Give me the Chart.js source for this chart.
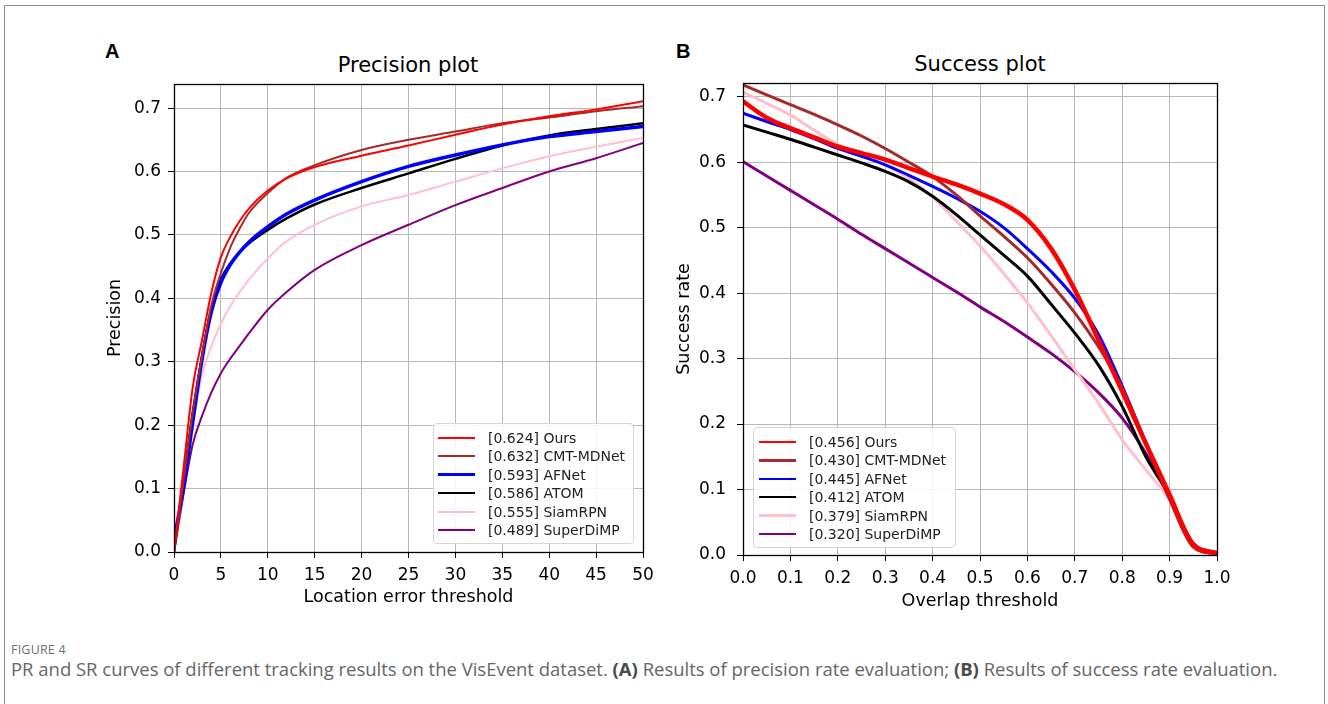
<!DOCTYPE html>
<html>
<head>
<meta charset="utf-8">
<script src="https://cdn.jsdelivr.net/npm/chart.js@4.4.1/dist/chart.umd.min.js"></script>
<style>
  html, body { margin:0; padding:0; background:#fff; }
  body { width:1328px; height:704px; position:relative; overflow:hidden; font-family:"DejaVu Sans", sans-serif; }
  #frame { position:absolute; left:4px; top:5px; width:1321px; height:760px; border:1.5px solid #8c8c8c; box-sizing:border-box; }
  .panel { position:absolute; font-family:"Liberation Sans", Arial, sans-serif; font-weight:bold; font-size:20px; line-height:20px; color:#000; }
  .ptitle { position:absolute; font-family:"DejaVu Sans", sans-serif; font-size:21px; line-height:24px; text-align:center; color:#000; white-space:nowrap; }
  .cv { position:absolute; top:0; }
  .legend { position:absolute; background:rgba(255,255,255,0.85); border:1px solid #d6d6d6; border-radius:4px; box-sizing:border-box; }
  .lrow { position:absolute; left:0; height:18px; width:100%; }
  .lline { position:absolute; }
  .ltext { position:absolute; top:0; font-family:"DejaVu Sans", sans-serif; font-size:14px; line-height:18px; color:#222; white-space:nowrap; }
  #figlabel { position:absolute; left:11px; top:641px; font-family:"Open Sans", "Noto Sans", sans-serif; font-size:12.5px; color:#707070; letter-spacing:0.2px; }
  #caption { position:absolute; left:11px; top:658px; font-family:"Open Sans", "Noto Sans", sans-serif; font-size:16px; line-height:22px; color:#666; white-space:nowrap; }
  #caption b { color:#4a4a4a; }
</style>
</head>
<body>
<div id="frame"></div>
<div class="panel" style="left:105px;top:41px;">A</div>
<div class="panel" style="left:676px;top:41px;">B</div>
<div class="ptitle" style="left:258px;width:300px;top:53px;">Precision plot</div>
<div class="ptitle" style="left:830px;width:300px;top:52px;">Success plot</div>
<canvas id="c1" class="cv" width="664" height="630" style="left:0px;width:664px;height:630px;"></canvas>
<canvas id="c2" class="cv" width="664" height="630" style="left:664px;width:664px;height:630px;"></canvas>
<div id="leg1" class="legend" style="left:433px;top:423px;width:201px;height:121px;"></div>
<div id="leg2" class="legend" style="left:753px;top:427px;width:203px;height:121px;"></div>
<div id="figlabel">FIGURE 4</div>
<div id="caption">PR and SR curves of different tracking results on the VisEvent dataset. <b>(A)</b> Results of precision rate evaluation; <b>(B)</b> Results of success rate evaluation.</div>

<script>
// ---------------- DATA ----------------
const methods = ["Ours", "CMT-MDNet", "AFNet", "ATOM", "SiamRPN", "SuperDiMP"];
const precScores = ["0.624", "0.632", "0.593", "0.586", "0.555", "0.489"];
const succScores = ["0.456", "0.430", "0.445", "0.412", "0.379", "0.320"];
const seriesColors = ["#ff0000", "#a52a2a", "#0000ff", "#000000", "#ffc0cb", "#800080"];

// Precision plot (location error threshold, pixels)
const precThresholds = [0, 1, 2, 3, 4, 5, 6, 7, 8, 10, 12, 15, 20, 25, 30, 35, 40, 45, 50];
const precOurs      = [0, 0.13, 0.26, 0.335, 0.41, 0.465, 0.497, 0.522, 0.542, 0.57, 0.589, 0.607, 0.625, 0.641, 0.658, 0.674, 0.687, 0.698, 0.711];
const precCMTMDNet  = [0, 0.11, 0.22, 0.31, 0.39, 0.44, 0.48, 0.51, 0.535, 0.566, 0.59, 0.61, 0.634, 0.65, 0.663, 0.676, 0.685, 0.695, 0.703];
const precAFNet     = [0.02, 0.10, 0.205, 0.305, 0.38, 0.425, 0.453, 0.473, 0.489, 0.513, 0.533, 0.555, 0.584, 0.608, 0.626, 0.642, 0.655, 0.663, 0.671];
const precATOM      = [0, 0.11, 0.22, 0.31, 0.385, 0.43, 0.455, 0.473, 0.487, 0.508, 0.526, 0.548, 0.574, 0.597, 0.62, 0.641, 0.657, 0.667, 0.676];
const precSiamRPN   = [0, 0.10, 0.20, 0.28, 0.325, 0.36, 0.388, 0.41, 0.43, 0.463, 0.49, 0.516, 0.545, 0.563, 0.584, 0.605, 0.624, 0.639, 0.653];
const precSuperDiMP = [0, 0.09, 0.17, 0.215, 0.252, 0.282, 0.305, 0.325, 0.345, 0.382, 0.41, 0.445, 0.484, 0.516, 0.547, 0.574, 0.60, 0.621, 0.645];

// Success plot (overlap threshold)
const overlapThresholds = [0, 0.05, 0.1, 0.15, 0.2, 0.25, 0.3, 0.35, 0.4, 0.45, 0.5, 0.55, 0.6, 0.65, 0.7, 0.75, 0.8, 0.85, 0.9, 0.95, 1.0];
const succOurs      = [0.693, 0.668, 0.652, 0.638, 0.624, 0.614, 0.604, 0.591, 0.578, 0.566, 0.552, 0.536, 0.512, 0.468, 0.405, 0.328, 0.25, 0.17, 0.092, 0.016, 0.003];
const succCMTMDNet  = [0.718, 0.703, 0.688, 0.673, 0.657, 0.64, 0.621, 0.60, 0.578, 0.55, 0.518, 0.487, 0.454, 0.414, 0.37, 0.318, 0.255, 0.17, 0.085, 0.012, 0.001];
const succAFNet     = [0.675, 0.662, 0.65, 0.636, 0.621, 0.609, 0.596, 0.58, 0.563, 0.545, 0.525, 0.50, 0.468, 0.433, 0.392, 0.337, 0.258, 0.172, 0.09, 0.015, 0.002];
const succATOM      = [0.657, 0.646, 0.635, 0.623, 0.611, 0.599, 0.586, 0.57, 0.548, 0.52, 0.489, 0.458, 0.426, 0.383, 0.339, 0.29, 0.227, 0.15, 0.09, 0.015, 0.002];
const succSiamRPN   = [0.707, 0.69, 0.672, 0.649, 0.627, 0.611, 0.596, 0.575, 0.547, 0.51, 0.472, 0.43, 0.385, 0.335, 0.283, 0.232, 0.176, 0.13, 0.084, 0.015, 0.002];
const succSuperDiMP = [0.601, 0.579, 0.557, 0.535, 0.513, 0.49, 0.468, 0.446, 0.424, 0.402, 0.379, 0.357, 0.333, 0.308, 0.28, 0.248, 0.209, 0.155, 0.089, 0.018, 0.003];

const precTickLabels = ["0", "5", "10", "15", "20", "25", "30", "35", "40", "45", "50"];
const rateTickLabels = ["0.0", "0.1", "0.2", "0.3", "0.4", "0.5", "0.6", "0.7"];
const overlapTickLabels = ["0.0", "0.1", "0.2", "0.3", "0.4", "0.5", "0.6", "0.7", "0.8", "0.9", "1.0"];

// ---------------- BUILD ----------------
const precSeries = [precOurs, precCMTMDNet, precAFNet, precATOM, precSiamRPN, precSuperDiMP];
const succSeries = [succOurs, succCMTMDNet, succAFNet, succATOM, succSiamRPN, succSuperDiMP];
const precWidths = [2, 2, 3.5, 2.5, 2, 2];
const succWidths = [4.5, 3, 3, 3, 3, 3];

function pts(xs, ys) { return xs.map((x, i) => ({ x: x, y: ys[i] })); }

const framePlugin = {
  id: 'frame',
  afterDatasetsDraw(chart) {
    const a = chart.chartArea, ctx = chart.ctx;
    ctx.save();
    ctx.strokeStyle = '#000';
    ctx.lineWidth = 1.3;
    ctx.strokeRect(Math.round(a.left) + 0.5, Math.round(a.top) + 0.5, Math.round(a.right - a.left), Math.round(a.bottom - a.top));
    ctx.restore();
  }
};

const tickFont = { family: "DejaVu Sans", size: 17 };
const titleFont = { family: "DejaVu Sans", size: 17.5 };

function makeChart(id, xs, series, widths, cfg) {
  return new Chart(document.getElementById(id), {
    type: 'line',
    data: {
      datasets: series.map((ys, i) => ({
        label: methods[i],
        data: pts(xs, ys),
        borderColor: seriesColors[i],
        backgroundColor: seriesColors[i],
        borderWidth: widths[i],
        pointRadius: 0,
        fill: false,
        cubicInterpolationMode: 'monotone',
        borderCapStyle: 'round',
        borderJoinStyle: 'round'
      }))
    },
    options: {
      responsive: false,
      animation: false,
      devicePixelRatio: 1,
      layout: { padding: cfg.padding },
      plugins: { legend: { display: false }, tooltip: { enabled: false }, title: { display: false } },
      scales: {
        x: {
          type: 'linear', min: cfg.xmin, max: cfg.xmax,
          afterFit(s) { s.height = cfg.xHeight; },
          afterBuildTicks(s) { s.ticks = cfg.xLabels.map((t) => ({ value: parseFloat(t) })); },
          ticks: { font: tickFont, color: '#000', padding: 7, maxRotation: 0, autoSkip: false, includeBounds: false,
                   callback: (v, i) => cfg.xLabels[i] },
          grid: { color: '#b8b8b8', lineWidth: 1, tickColor: '#000', tickLength: 6, drawTicks: true },
          border: { display: false },
          title: { display: true, text: cfg.xTitle, font: titleFont, color: '#000', padding: { top: 1, bottom: 4 } }
        },
        y: {
          type: 'linear', min: 0, max: cfg.ymax,
          afterFit(s) { s.width = cfg.yWidth; },
          afterBuildTicks(s) { s.ticks = rateTickLabels.map((t) => ({ value: parseFloat(t) })); },
          ticks: { font: tickFont, color: '#000', padding: cfg.yPad, includeBounds: false, autoSkip: false,
                   callback: (v, i) => rateTickLabels[i] },
          grid: { color: '#b8b8b8', lineWidth: 1, tickColor: '#000', tickLength: 6, drawTicks: true },
          border: { display: false },
          title: { display: true, text: cfg.yTitle, font: titleFont, color: '#000', padding: { top: 5, bottom: 4 } }
        }
      }
    },
    plugins: [framePlugin]
  });
}

makeChart('c1', precThresholds, precSeries, precWidths, {
  padding: { left: 100, right: 21, top: 84, bottom: 18 },
  xmin: 0, xmax: 50, ymax: 0.738, xHeight: 60, yWidth: 74, yPad: 7,
  xLabels: precTickLabels, xTitle: 'Location error threshold', yTitle: 'Precision'
});

makeChart('c2', overlapThresholds, succSeries, succWidths, {
  padding: { left: 5, right: 111, top: 83, bottom: 14.5 },
  xmin: 0, xmax: 1, ymax: 0.721, xHeight: 60.5, yWidth: 74, yPad: 11,
  xLabels: overlapTickLabels, xTitle: 'Overlap threshold', yTitle: 'Success rate'
});

// ---------------- LEGENDS (HTML, built from the arrays) ----------------
function buildLegend(id, scores, rowTop, lineLeft, lineLen, textLeft, widths) {
  const box = document.getElementById(id);
  methods.forEach((m, i) => {
    const row = document.createElement('div');
    row.className = 'lrow';
    row.style.top = (rowTop + i * 18.4) + 'px';
    const ln = document.createElement('div');
    ln.className = 'lline';
    const w = widths[i];
    ln.style.left = lineLeft + 'px';
    ln.style.width = lineLen + 'px';
    ln.style.height = w + 'px';
    ln.style.top = (9 - w / 2) + 'px';
    ln.style.background = seriesColors[i];
    const tx = document.createElement('div');
    tx.className = 'ltext';
    tx.style.left = textLeft + 'px';
    tx.textContent = '[' + scores[i] + '] ' + m;
    row.appendChild(ln); row.appendChild(tx);
    box.appendChild(row);
  });
}
buildLegend('leg1', precScores, 5, 4, 37, 54, [2, 2, 3, 2.5, 2, 2]);
buildLegend('leg2', succScores, 5, 5, 37, 55, [2.5, 2.5, 2.5, 2.5, 2.5, 2.5]);

// fit caption width to the reference line length
(function () {
  const c = document.getElementById('caption');
  const target = 1267;
  const w = c.getBoundingClientRect().width;
  if (w > 0) { c.style.fontSize = (16 * target / w).toFixed(2) + 'px'; }
})();
</script>
</body>
</html>
